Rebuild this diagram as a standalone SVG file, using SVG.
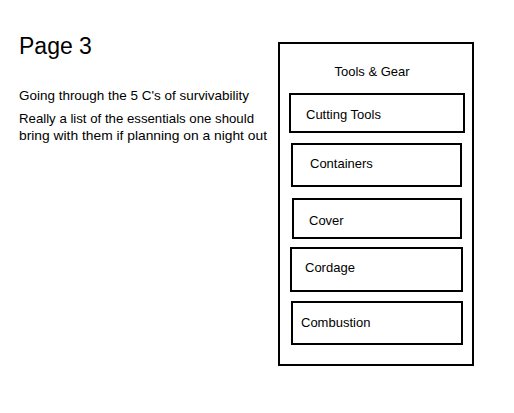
<svg xmlns="http://www.w3.org/2000/svg" width="514" height="413" viewBox="0 0 514 413">
<style>
text{font-family:"Liberation Sans",Arial,sans-serif;fill:#000}
.t{font-size:13px}
.box{fill:#fff;stroke:#000;stroke-width:2}
</style>
<rect width="514" height="413" fill="#fff"/>
<g id="title"><text x="19" y="54" style="font-size:23px">Page 3</text></g>
<g id="notes">
<text class="t" x="19" y="100" textLength="230" lengthAdjust="spacingAndGlyphs">Going through the 5 C's of survivability</text>
<text class="t" x="19" y="123" textLength="235" lengthAdjust="spacingAndGlyphs">Really a list of the essentials one should</text>
<text class="t" x="19" y="140" textLength="248" lengthAdjust="spacingAndGlyphs">bring with them if planning on a night out</text>
</g>
<g id="container">
<rect class="box" x="279" y="43" width="194" height="322"/>
<text class="t" x="372" y="76" text-anchor="middle">Tools &amp; Gear</text>
</g>
<g id="cutting-tools"><rect class="box" x="290" y="94" width="174" height="38"/><text class="t" x="306" y="119">Cutting Tools</text></g>
<g id="containers"><rect class="box" x="292" y="144" width="169" height="42"/><text class="t" x="310" y="168">Containers</text></g>
<g id="cover"><rect class="box" x="293" y="199" width="168" height="39"/><text class="t" x="309" y="225">Cover</text></g>
<g id="cordage"><rect class="box" x="291" y="248" width="171" height="43"/><text class="t" x="305" y="272">Cordage</text></g>
<g id="combustion"><rect class="box" x="292" y="302" width="170" height="42"/><text class="t" x="301" y="327">Combustion</text></g>
<g id="connectors"/>
</svg>
